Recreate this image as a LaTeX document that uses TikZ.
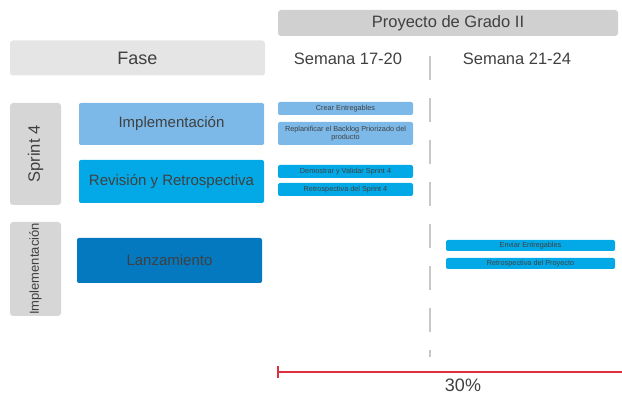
\documentclass[tikz,border=0pt]{standalone}
\usepackage{fontspec}
\setmainfont{Liberation Sans}
\usetikzlibrary{positioning, calc}

\begin{document}
\begin{tikzpicture}[x=1pt, y=-1pt, font=\fontsize{15}{17}\selectfont, align=center, text=txtgray]
        % Define colors
        \definecolor{txtgray}{HTML}{404040}
        \definecolor{headgray}{HTML}{D0D0D0}
        \definecolor{fasegray}{HTML}{E5E5E5}
        \definecolor{sidegray}{HTML}{D6D6D6}
        \definecolor{lightblue}{HTML}{7CB9E8}
        \definecolor{midblue}{HTML}{03A9E6}
        \definecolor{darkblue}{HTML}{0479C0}
        \definecolor{barred}{HTML}{E0303F}
        \definecolor{dashgray}{HTML}{C8C8C8}

        \useasboundingbox (0,0) rectangle (622,395);

        % Header
        \node[fill=headgray, rounded corners=3pt, minimum width=340pt, minimum height=26pt, inner sep=0pt, font=\fontsize{16.5}{18}\selectfont] (proyecto) at (448,23) {Proyecto de Grado II};
        \node[fill=fasegray, rounded corners=3pt, minimum width=255pt, minimum height=35pt, inner sep=0pt, font=\fontsize{18}{20}\selectfont] (fase) at (137.5,58) {Fase};
        \node[font=\fontsize{16.5}{18}\selectfont] (semA) at (348,59) {Semana 17-20};
        \node[font=\fontsize{16.5}{18}\selectfont] (semB) at (517,59) {Semana 21-24};

        % Side labels
        \node[fill=sidegray, rounded corners=3pt, minimum width=51pt, minimum height=102pt, inner sep=0pt] (sprint) at (35.5,154) {};
        \node[rotate=90, font=\fontsize{16.5}{18}\selectfont] at (sprint.center) {Sprint 4};
        \node[fill=sidegray, rounded corners=3pt, minimum width=51pt, minimum height=94pt, inner sep=0pt] (impl) at (35.5,269) {};
        \node[rotate=90, font=\fontsize{13}{15}\selectfont] at (impl.center) {Implementación};

        % Phases
        \node[fill=lightblue, rounded corners=2pt, minimum width=185pt, minimum height=42pt, inner sep=0pt] (implementacion) at (171.5,124) {Implementación};
        \node[fill=midblue, rounded corners=2pt, minimum width=185pt, minimum height=43pt, inner sep=0pt] (revision) at (171.5,181.5) {Revisión y Retrospectiva};
        \node[fill=darkblue, rounded corners=2pt, minimum width=185pt, minimum height=45pt, inner sep=0pt] (lanzamiento) at (169.5,260.5) {Lanzamiento};

        % Tasks
        \node[fill=lightblue, rounded corners=2pt, minimum width=135pt, minimum height=13pt, inner sep=0pt, font=\fontsize{7.3}{8.5}\selectfont] (crear) at (345.5,108.5) {Crear Entregables};
        \node[fill=lightblue, rounded corners=2pt, minimum width=135pt, minimum height=23pt, inner sep=0pt, font=\fontsize{7.3}{8.5}\selectfont] (replan) at (345.5,133.5) {Replanificar el Backlog Priorizado del\\producto};
        \node[fill=midblue, rounded corners=2pt, minimum width=135pt, minimum height=13pt, inner sep=0pt, font=\fontsize{7.3}{8.5}\selectfont] (demostrar) at (345.5,171.5) {Demostrar y Validar Sprint 4};
        \node[fill=midblue, rounded corners=2pt, minimum width=135pt, minimum height=13pt, inner sep=0pt, font=\fontsize{7.3}{8.5}\selectfont] (retroA) at (345.5,189.5) {Retrospectiva del Sprint 4};
        \node[fill=midblue, rounded corners=2pt, minimum width=169pt, minimum height=11pt, inner sep=0pt, font=\fontsize{7.3}{8.5}\selectfont] (enviar) at (530.5,245.5) {Enviar Entregables};
        \node[fill=midblue, rounded corners=2pt, minimum width=169pt, minimum height=11pt, inner sep=0pt, font=\fontsize{7.3}{8.5}\selectfont] (retroB) at (530.5,263.5) {Retrospectiva del Proyecto};

        % Divider
        \coordinate (divtop) at (430,56);
        \coordinate (divbot) at (430,357);
        \draw[dashgray, line width=1.5pt, dash pattern=on 24pt off 18pt] (divtop) -- (divbot);

        % Range bar
        \coordinate (barL) at (278,372);
        \coordinate (barR) at (622,372);
        \draw[barred, line width=1.2pt] (barL) -- (barR);
        \draw[barred, line width=1.2pt] ($(barL)+(0,-6)$) -- ($(barL)+(0,6)$);
        \node[font=\fontsize{18}{20}\selectfont] (pct) at (463,385) {30\%};
    \end{tikzpicture}
\end{document}
